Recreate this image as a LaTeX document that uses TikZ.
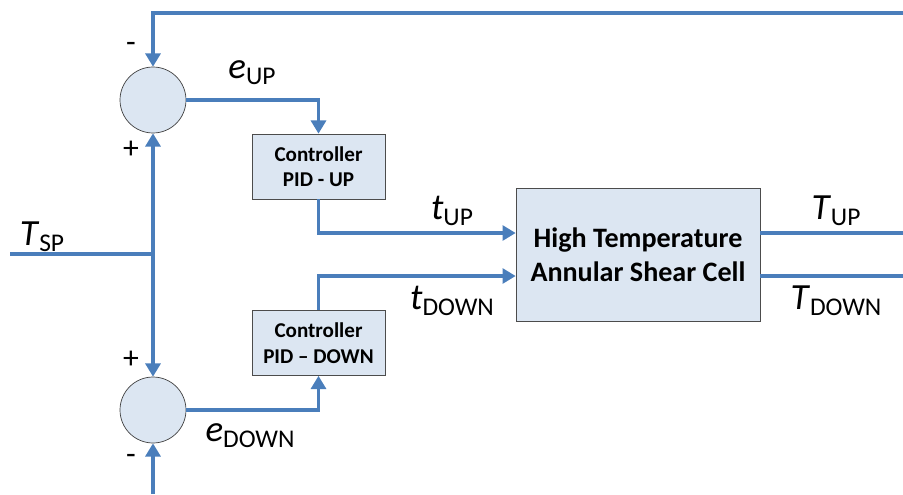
\documentclass[tikz,border=0pt]{standalone}
\usepackage{fontspec}
\setmainfont{Carlito}
\usetikzlibrary{arrows.meta}
\definecolor{sigblue}{HTML}{4A7EBB}
\definecolor{boxfill}{HTML}{DCE6F2}
\newcommand{\sig}[2]{\fontsize{21}{24}\selectfont\textit{#1}\raisebox{-0.35ex}{\fontsize{14.5}{16}\selectfont #2}}
\newcommand{\sgn}[1]{\fontsize{18}{18}\selectfont #1}

\begin{document}
\begin{tikzpicture}[x=0.02cm, y=-0.02cm,
  sumpt/.style={draw=black!75, fill=boxfill, circle, minimum size=1.32cm, inner sep=0pt},
  ctrl/.style={draw=black!70, fill=boxfill, minimum width=2.66cm, minimum height=1.3cm, inner sep=0pt, align=center, font=\fontsize{12}{14.5}\selectfont\bfseries},
  cell/.style={draw=black!70, fill=boxfill, minimum width=4.88cm, minimum height=2.66cm, inner sep=0pt, align=center, font=\fontsize{16}{19.5}\selectfont\bfseries},
  sig/.style={draw=sigblue, line width=1.8pt},
  arr/.style={sig, -{Triangle[length=7.5pt,width=8.5pt]}}]
\useasboundingbox (0,0) rectangle (903,494);

\node[sumpt] (sumup) at (153,100) {};
\node[sumpt] (sumdown) at (153,410) {};
\node[ctrl] (pidup) at (318.5,166.5) {Controller\\PID - UP};
\node[ctrl] (piddown) at (318.5,343) {Controller\\PID -- DOWN};
\node[cell] (cell) at (638,254.5) {High Temperature\\Annular Shear Cell};

\coordinate (tsp) at (10,254);
\coordinate (split) at (153,254);
\coordinate (fbtop) at (903,13);
\coordinate (fbbot) at (153,494);
\coordinate (outup) at (903,233);
\coordinate (outdown) at (903,276);

% feedback and set point
\draw[arr] (fbtop) -| (sumup);
\draw[sig] (tsp) -- (split);
\draw[arr] (split) -- (sumup);
\draw[arr] (split) -- (sumdown);
\draw[arr] (fbbot) -- (sumdown);

% errors to controllers
\draw[arr] (sumup) -| (pidup);
\draw[arr] (sumdown) -| (piddown);

% controllers to cell
\draw[arr] (pidup) |- (cell.west |- outup);
\draw[arr] (piddown) |- (cell.west |- outdown);

% outputs
\draw[sig] (cell.east |- outup) -- (outup);
\draw[sig] (cell.east |- outdown) -- (outdown);

% labels
\node (mup) at (131,47) {\sgn{-}};
\node (pup) at (131,150) {\sgn{+}};
\node (pdown) at (131,360) {\sgn{+}};
\node (mdown) at (131,459) {\sgn{-}};
\node (lblsp) at (42,237) {\sig{T}{SP}};
\node (lbleup) at (252,73) {\sig{e}{UP}};
\node (lbledown) at (250,436) {\sig{e}{DOWN}};
\node (lbltup) at (452,211) {\sig{t}{UP}};
\node (lbltdown) at (452,301) {\sig{t}{DOWN}};
\node (lblTup) at (836,211) {\sig{T}{UP}};
\node (lblTdown) at (836,301) {\sig{T}{DOWN}};
\end{tikzpicture}
\end{document}
